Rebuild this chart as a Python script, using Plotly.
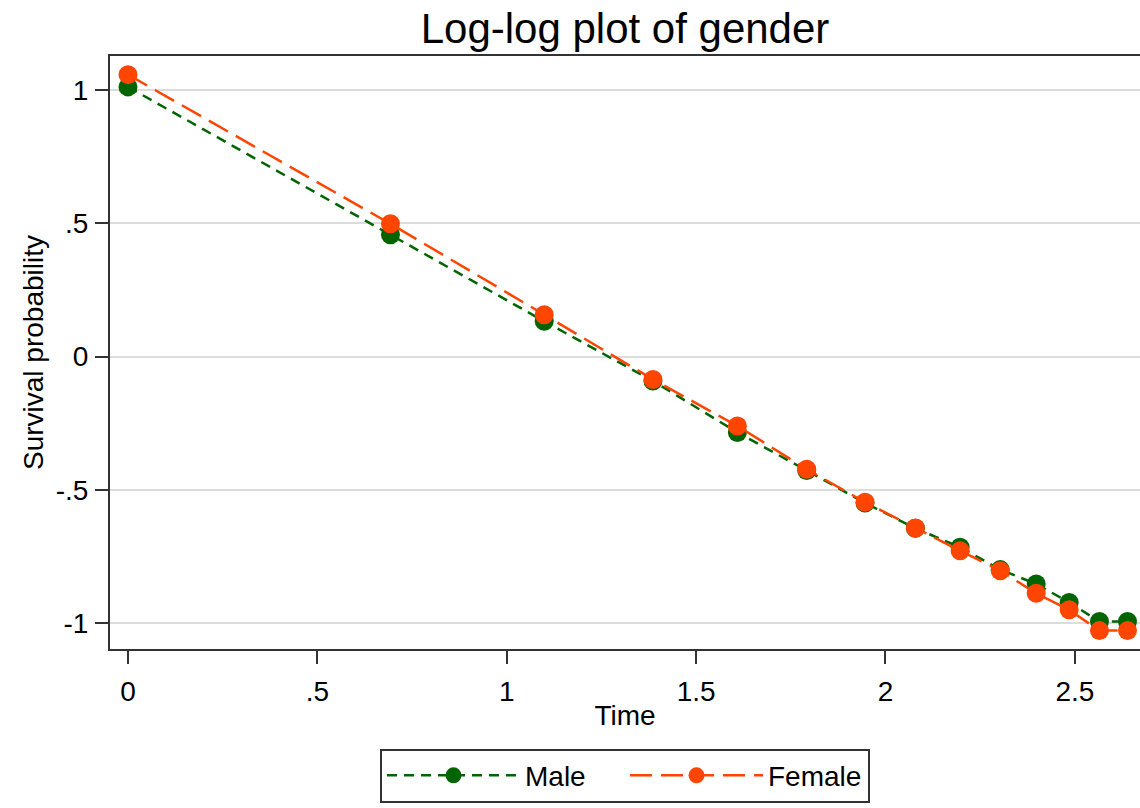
import plotly.graph_objects as go

# Data
time = [0.0, 0.693, 1.099, 1.386, 1.609, 1.792, 1.946, 2.079, 2.197, 2.303, 2.398, 2.485, 2.565, 2.639]
male = [1.012, 0.457, 0.132, -0.092, -0.285, -0.428, -0.550, -0.645, -0.716, -0.800, -0.854, -0.923, -0.995, -0.995]
female = [1.058, 0.498, 0.157, -0.086, -0.261, -0.423, -0.547, -0.644, -0.729, -0.804, -0.889, -0.951, -1.029, -1.029]

x_ticks = [0, 0.5, 1, 1.5, 2, 2.5]
x_ticktext = ["0", ".5", "1", "1.5", "2", "2.5"]
y_ticks = [-1, -0.5, 0, 0.5, 1]
y_ticktext = ["-1", "-.5", "0", ".5", "1"]

FONT = "Arial, 'Liberation Sans', sans-serif"
AXIS = "#333333"

fig = go.Figure()
fig.add_trace(go.Scatter(
    x=time, y=male, name="Male", mode="lines+markers",
    line=dict(color="#006400", width=2.5, dash="10px,7px"),
    marker=dict(color="#006400", size=19),
))
fig.add_trace(go.Scatter(
    x=time, y=female, name="Female", mode="lines+markers",
    line=dict(color="#FF4500", width=2.5, dash="22px,9px"),
    marker=dict(color="#FF4500", size=19),
))

fig.update_layout(
    width=1140, height=808,
    margin=dict(l=110, r=0, t=56, b=159, autoexpand=False),
    paper_bgcolor="white", plot_bgcolor="white",
    font=dict(family=FONT, size=28, color="black"),
    title=dict(text="Log-log plot of gender", x=0.5, xanchor="center",
               xref="paper", y=1 - 28 / 808, yref="container", yanchor="middle",
               font=dict(size=42, color="black")),
    showlegend=True,
    legend=dict(orientation="h", x=0.5, xanchor="center", y=-0.168, yanchor="top",
                bordercolor=AXIS, borderwidth=2, bgcolor="white",
                font=dict(size=28), entrywidth=95, itemwidth=133),
)

fig.update_xaxes(
    range=[-0.0475, 2.672], tickvals=x_ticks, ticktext=x_ticktext,
    showgrid=False, zeroline=False,
    showline=True, linecolor=AXIS, linewidth=2, mirror=True,
    ticks="outside", ticklen=13, tickwidth=2, tickcolor=AXIS,
    ticklabelstandoff=3,
    title=dict(text="Time", standoff=0, font=dict(size=28)),
)
fig.update_yaxes(
    range=[-1.098, 1.128], tickvals=y_ticks, ticktext=y_ticktext,
    showgrid=True, gridcolor="#DCDCDC", gridwidth=2, zeroline=False,
    showline=True, linecolor=AXIS, linewidth=2,
    ticks="outside", ticklen=13, tickwidth=2, tickcolor=AXIS,
    ticklabelstandoff=1,
    title=dict(text="Survival probability", standoff=4, font=dict(size=28)),
)

fig.write_html("out.html")
